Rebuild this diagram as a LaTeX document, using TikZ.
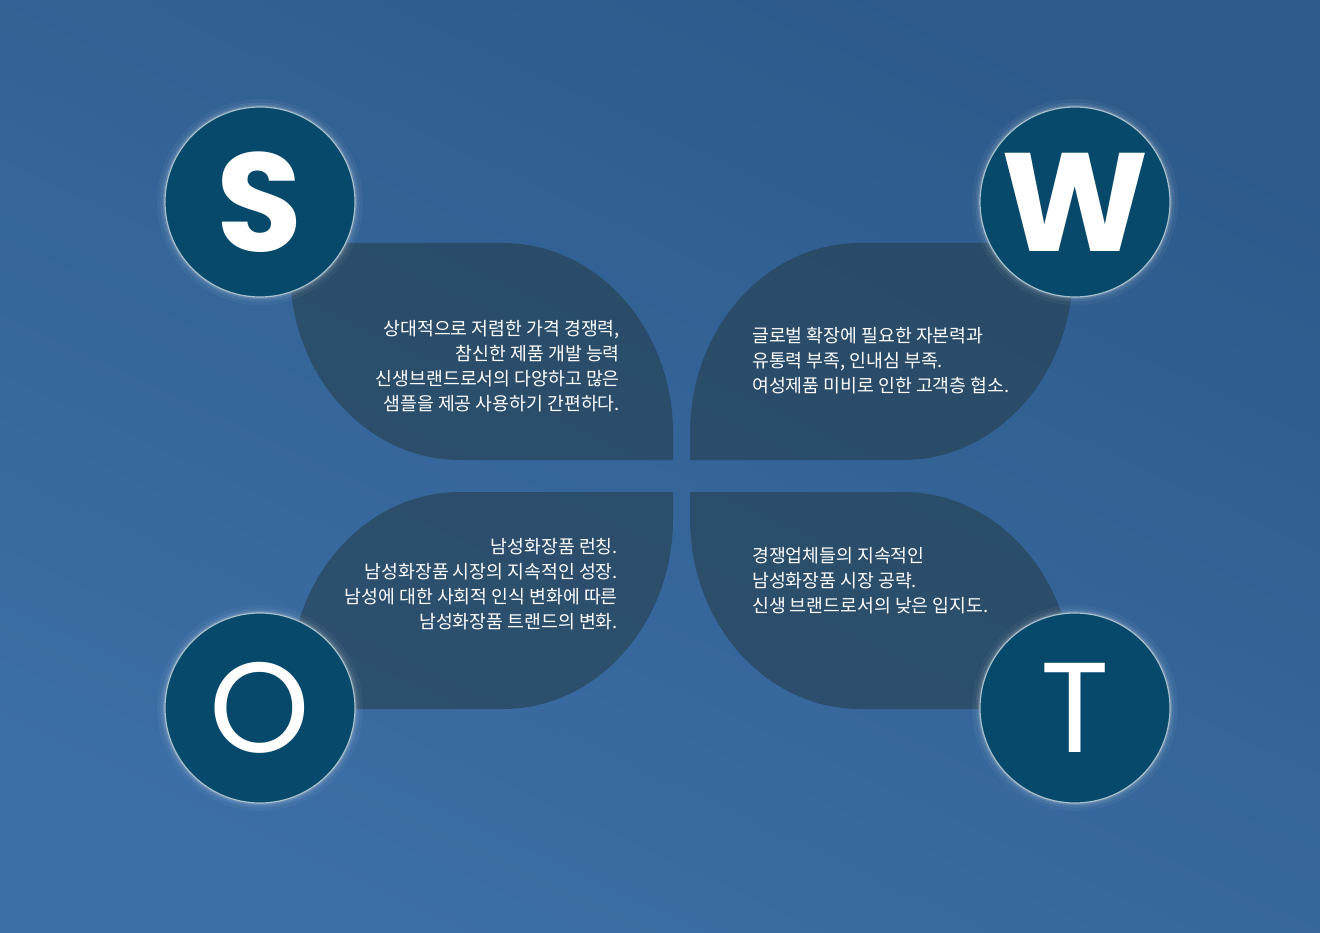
\documentclass[tikz,border=0pt]{standalone}
\usepackage{fontspec}
\setmainfont{Noto Sans CJK KR}
\newfontfamily\letterfont{Poppins}
\usetikzlibrary{positioning}

\definecolor{bgtop}{HTML}{2D5A8B}
\definecolor{bgmid}{HTML}{386A9F}
\definecolor{bgbot}{HTML}{3C6FA6}
\definecolor{leafcol}{HTML}{26404F}
\definecolor{circcol}{HTML}{06496B}

\begin{document}
\begin{tikzpicture}[
  x=1pt, y=-1pt,
  leaf/.style={fill=leafcol, fill opacity=0.62},
  badge/.style={circle, fill=circcol, draw=white!65!circcol, line width=1.2pt, minimum size=190pt, inner sep=0pt, text=white,
    preaction={draw=white, draw opacity=0.04, line width=16pt},
    preaction={draw=white, draw opacity=0.07, line width=9pt},
    preaction={draw=white, draw opacity=0.14, line width=4pt}},
  boldletter/.style={font=\letterfont\bfseries\fontsize{140}{140}\selectfont},
  thinletter/.style={font=\letterfont\fontsize{128}{128}\selectfont},
  swot/.style={font=\fontsize{18.3}{25}\selectfont, text=white, inner sep=0pt}
]

% Background
\shade[top color=bgtop, middle color=bgmid, bottom color=bgbot, shading angle=-25] (0,0) rectangle (1320,933);

% Leaves
\fill[leaf] (290,243) -- (503,243) arc[start angle=90, end angle=0, x radius=170pt, y radius=190pt]
  -- (673,460) -- (460,460) arc[start angle=270, end angle=180, x radius=170pt, y radius=190pt] -- cycle;
\fill[leaf] (1073,243) -- (860,243) arc[start angle=90, end angle=180, x radius=170pt, y radius=190pt]
  -- (690,460) -- (903,460) arc[start angle=270, end angle=360, x radius=170pt, y radius=190pt] -- cycle;
\fill[leaf] (290,709) -- (503,709) arc[start angle=270, end angle=360, x radius=170pt, y radius=190pt]
  -- (673,492) -- (460,492) arc[start angle=90, end angle=180, x radius=170pt, y radius=190pt] -- cycle;
\fill[leaf] (1073,709) -- (860,709) arc[start angle=270, end angle=180, x radius=170pt, y radius=190pt]
  -- (690,492) -- (903,492) arc[start angle=90, end angle=0, x radius=170pt, y radius=190pt] -- cycle;

% Letter badges
\node[badge, boldletter] (s) at (260,202) {S};
\node[badge, boldletter] (w) at (1075,202) {W};
\node[badge, thinletter] (o) at (260,708) {O};
\node[badge, thinletter] (t) at (1075,708) {T};

% Texts
\node[swot, align=right, anchor=east] (stext) at (620,366) {상대적으로 저렴한 가격 경쟁력,\\참신한 제품 개발 능력\\신생브랜드로서의 다양하고 많은\\샘플을 제공 사용하기 간편하다.};
\node[swot, align=left, anchor=west] (wtext) at (752,361) {글로벌 확장에 필요한 자본력과\\유통력 부족, 인내심 부족.\\여성제품 미비로 인한 고객층 협소.};
\node[swot, align=right, anchor=east] (otext) at (618,584) {남성화장품 런칭.\\남성화장품 시장의 지속적인 성장.\\남성에 대한 사회적 인식 변화에 따른\\남성화장품 트랜드의 변화.};
\node[swot, align=left, anchor=west] (ttext) at (752,581) {경쟁업체들의 지속적인\\남성화장품 시장 공략.\\신생 브랜드로서의 낮은 입지도.};

\end{tikzpicture}
\end{document}
